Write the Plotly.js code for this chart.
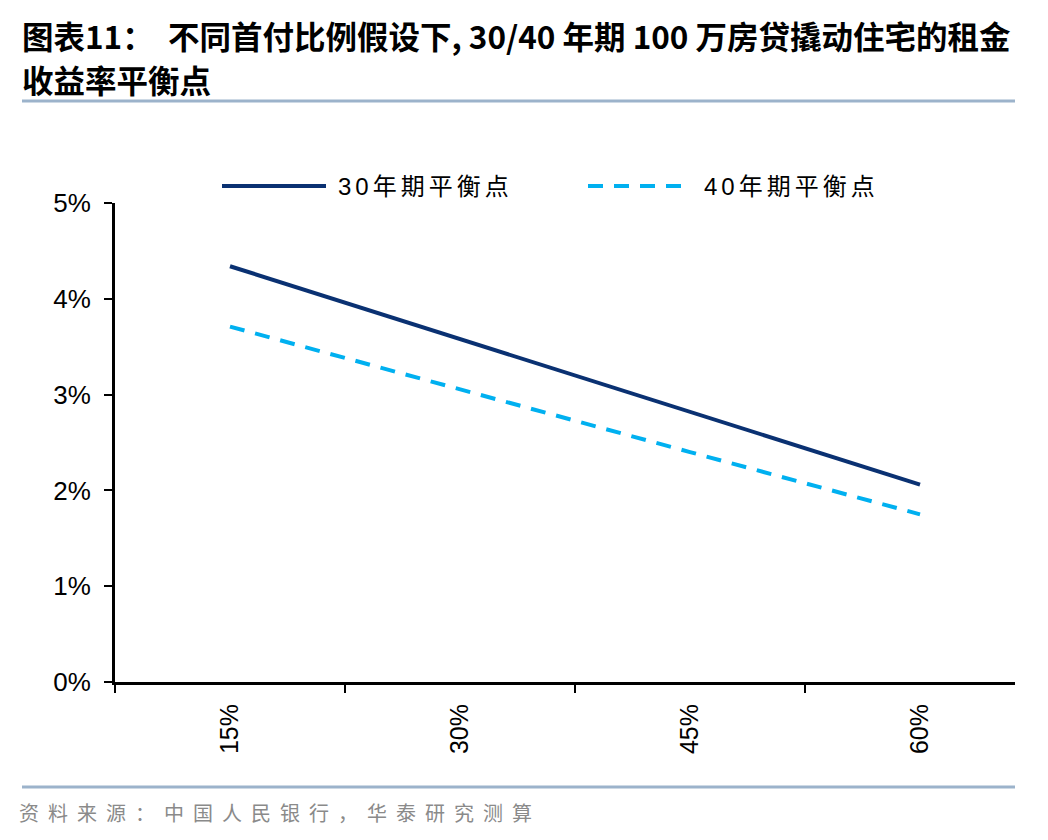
<!DOCTYPE html>
<html>
<head>
<meta charset="utf-8">
<script src="https://cdn.plot.ly/plotly-3.0.1.min.js"></script>
<style>
  html, body { margin: 0; padding: 0; background: #fff; }
  #chart { width: 1048px; height: 840px; }
  g.annotation[data-index="2"] text, g.annotation[data-index="3"] text { letter-spacing: 4px; }
  g.annotation[data-index="4"] text { letter-spacing: 9px; }
</style>
</head>
<body>
<div id="chart"></div>
<script>
// ---- data ----
const categories = ['15%', '30%', '45%', '60%'];
const series30Name = '30年期平衡点';
const series40Name = '40年期平衡点';
const series30 = [4.34, 3.58, 2.82, 2.06];
const series40 = [3.71, 3.05, 2.40, 1.75];
const yTickVals = [0, 1, 2, 3, 4, 5];
const yTickText = ['0%', '1%', '2%', '3%', '4%', '5%'];
const titleLine1 = '图表11：  不同首付比例假设下, 30/40 年期 100 万房贷撬动住宅的租金';
const titleLine2 = '收益率平衡点';
const sourceText = '资料来源：中国人民银行，华泰研究测算';

// ---- layout helpers (pixel -> paper) ----
const L = 115, R = 1015, T = 203, B = 682;
const px = x => (x - L) / (R - L);
const py = y => (B - y) / (B - T);

const navy = '#0a3172';
const cyan = '#00b0f0';
const sepColor = '#9cb3cb';

const traces = [
  { type: 'scatter', mode: 'lines', name: series30Name, x: categories, y: series30,
    line: { color: navy, width: 4 }, showlegend: false, hoverinfo: 'skip' },
  { type: 'scatter', mode: 'lines', name: series40Name, x: categories, y: series40,
    line: { color: cyan, width: 4, dash: '15px,11px' }, showlegend: false, hoverinfo: 'skip' }
];

const layout = {
  width: 1048, height: 840,
  margin: { l: L, r: 1048 - R, t: T, b: 840 - B, pad: 0 },
  paper_bgcolor: '#ffffff', plot_bgcolor: '#ffffff',
  font: { family: 'Liberation Sans, Arial, sans-serif', size: 22, color: '#000' },
  xaxis: {
    type: 'category', range: [-0.5, 3.413], fixedrange: true,
    showgrid: false, zeroline: false,
    showline: true, linecolor: '#000', linewidth: 3,
    ticks: 'outside', tickson: 'boundaries', ticklen: 8, tickwidth: 2, tickcolor: '#000',
    ticklabelstandoff: 9,
    tickangle: -90, tickfont: { family: 'Liberation Sans, Arial, sans-serif', size: 25, color: '#000' }
  },
  yaxis: {
    range: [0, 5], fixedrange: true,
    tickvals: yTickVals, ticktext: yTickText,
    showgrid: false, zeroline: false,
    showline: true, linecolor: '#000', linewidth: 3,
    ticks: 'outside', ticklen: 8, tickwidth: 2, tickcolor: '#000',
    ticklabelstandoff: 8,
    tickfont: { family: 'Liberation Sans, Arial, sans-serif', size: 26, color: '#000' }
  },
  shapes: [
    { type: 'line', xref: 'paper', yref: 'paper', x0: px(22), x1: px(1015), y0: py(101), y1: py(101),
      line: { color: sepColor, width: 3 } },
    { type: 'line', xref: 'paper', yref: 'paper', x0: px(22), x1: px(1015), y0: py(787), y1: py(787),
      line: { color: sepColor, width: 3 } },
    { type: 'line', xref: 'paper', yref: 'paper', x0: px(222), x1: px(326), y0: py(186), y1: py(186),
      line: { color: navy, width: 4 } },
    { type: 'line', xref: 'paper', yref: 'paper', x0: px(588), x1: px(690), y0: py(186), y1: py(186),
      line: { color: cyan, width: 4, dash: '15px,11px' } }
  ],
  annotations: [
    { xref: 'paper', yref: 'paper', x: px(20), y: py(35), xanchor: 'left', yanchor: 'middle',
      showarrow: false, text: '<b>' + titleLine1 + '</b>',
      font: { family: 'Liberation Sans Narrow, Noto Sans CJK SC, sans-serif', size: 31.5, color: '#000' } },
    { xref: 'paper', yref: 'paper', x: px(20), y: py(79), xanchor: 'left', yanchor: 'middle',
      showarrow: false, text: '<b>' + titleLine2 + '</b>',
      font: { family: 'Liberation Sans Narrow, Noto Sans CJK SC, sans-serif', size: 31.5, color: '#000' } },
    { xref: 'paper', yref: 'paper', x: px(336 + 14), y: py(186), xanchor: 'left', yanchor: 'middle',
      showarrow: false, text: series30Name,
      font: { family: 'Liberation Sans, Noto Sans CJK SC, sans-serif', size: 24, color: '#000' } },
    { xref: 'paper', yref: 'paper', x: px(702 + 14), y: py(186), xanchor: 'left', yanchor: 'middle',
      showarrow: false, text: series40Name,
      font: { family: 'Liberation Sans, Noto Sans CJK SC, sans-serif', size: 24, color: '#000' } },
    { xref: 'paper', yref: 'paper', x: px(22 + 76), y: py(812), xanchor: 'left', yanchor: 'middle',
      showarrow: false, text: sourceText,
      font: { family: 'Noto Sans CJK SC, sans-serif', size: 20, color: '#8a8a8a' } }
  ]
};

Plotly.newPlot('chart', traces, layout, { staticPlot: true, displayModeBar: false });
</script>
</body>
</html>
